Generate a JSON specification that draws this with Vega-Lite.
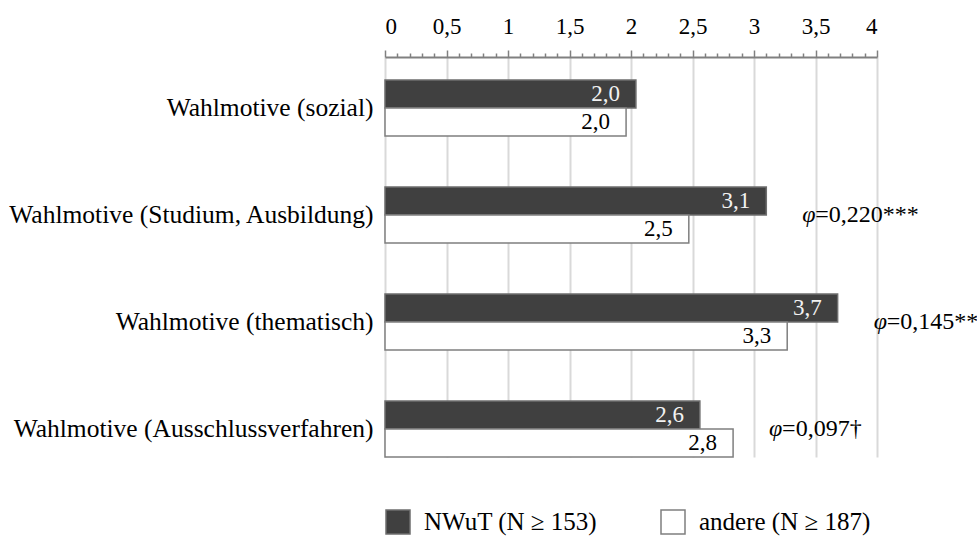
{
  "$schema": "https://vega.github.io/schema/vega-lite/v6.json",
  "width": 492,
  "height": 400,
  "autosize": {"type": "none"},
  "padding": {"left": 385, "top": 57, "right": 100, "bottom": 83},
  "background": "white",
  "config": {
    "view": {"stroke": null},
    "font": "'Liberation Serif', 'Times New Roman', serif",
    "locale": {"number": {"decimal": ",", "thousands": ".", "grouping": [3], "currency": ["", " €"]}}
  },
  "data": {
    "values": [
      {"motiv": "Wahlmotive (sozial)", "grp": "NWuT (N ≥ 153)", "value": 2.04, "phi": null},
      {"motiv": "Wahlmotive (sozial)", "grp": "andere (N ≥ 187)", "value": 1.96, "phi": null},
      {"motiv": "Wahlmotive (Studium, Ausbildung)", "grp": "NWuT (N ≥ 153)", "value": 3.10, "phi": "=0,220***"},
      {"motiv": "Wahlmotive (Studium, Ausbildung)", "grp": "andere (N ≥ 187)", "value": 2.47, "phi": null},
      {"motiv": "Wahlmotive (thematisch)", "grp": "NWuT (N ≥ 153)", "value": 3.68, "phi": "=0,145**"},
      {"motiv": "Wahlmotive (thematisch)", "grp": "andere (N ≥ 187)", "value": 3.27, "phi": null},
      {"motiv": "Wahlmotive (Ausschlussverfahren)", "grp": "NWuT (N ≥ 153)", "value": 2.56, "phi": "=0,097†"},
      {"motiv": "Wahlmotive (Ausschlussverfahren)", "grp": "andere (N ≥ 187)", "value": 2.83, "phi": null}
    ]
  },
  "encoding": {
    "y": {
      "field": "motiv",
      "type": "nominal",
      "title": null,
      "sort": ["Wahlmotive (sozial)", "Wahlmotive (Studium, Ausbildung)", "Wahlmotive (thematisch)", "Wahlmotive (Ausschlussverfahren)"],
      "scale": {"paddingInner": 0.477, "paddingOuter": 0.107, "align": 1},
      "axis": {
        "domain": false,
        "ticks": false,
        "grid": false,
        "labelFont": "'Liberation Serif', 'Times New Roman', serif",
        "labelFontSize": 25.5,
        "labelColor": "#000000",
        "labelPadding": 12,
        "labelLimit": 400
      }
    }
  },
  "layer": [
    {
      "mark": {"type": "bar", "strokeWidth": 1.5},
      "encoding": {
        "x": {
          "field": "value",
          "type": "quantitative",
          "title": null,
          "scale": {"domain": [0, 4], "nice": false, "zero": true},
          "axis": {
            "orient": "top",
            "title": null,
            "tickCount": 60,
            "values": [0, 0.1, 0.2, 0.3, 0.4, 0.5, 0.6, 0.7, 0.8, 0.9, 1, 1.1, 1.2, 1.3, 1.4, 1.5, 1.6, 1.7, 1.8, 1.9, 2, 2.1, 2.2, 2.3, 2.4, 2.5, 2.6, 2.7, 2.8, 2.9, 3, 3.1, 3.2, 3.3, 3.4, 3.5, 3.6, 3.7, 3.8, 3.9, 4],
            "labelExpr": "abs(datum.value*2 - round(datum.value*2)) < 0.001 ? format(datum.value, '~g') : ''",
            "labelFont": "'Liberation Serif', 'Times New Roman', serif",
            "labelFontSize": 23,
            "labelColor": "#000000",
            "labelPadding": 12,
            "labelOverlap": false,
            "domainColor": "#808080",
            "domainWidth": 2,
            "tickColor": "#808080",
            "tickWidth": 1.5,
            "tickSize": {"condition": {"test": "abs(datum.value*2 - round(datum.value*2)) < 0.001", "value": 7}, "value": 4},
            "grid": true,
            "gridColor": "#d9d9d9",
            "gridWidth": 2,
            "gridOpacity": {"condition": {"test": "abs(datum.value*2 - round(datum.value*2)) < 0.001", "value": 1}, "value": 0}
          }
        },
        "yOffset": {"field": "grp", "type": "nominal", "sort": ["NWuT (N ≥ 153)", "andere (N ≥ 187)"], "scale": {"paddingInner": 0, "paddingOuter": 0}},
        "color": {
          "field": "grp",
          "type": "nominal",
          "scale": {"domain": ["NWuT (N ≥ 153)", "andere (N ≥ 187)"], "range": ["#404040", "#ffffff"]},
          "legend": {
            "orient": "bottom",
            "direction": "horizontal",
            "title": null,
            "symbolType": "square",
            "symbolSize": 576,
            "symbolStrokeWidth": 1.5,
            "labelFont": "'Liberation Serif', 'Times New Roman', serif",
            "labelFontSize": 25,
            "labelColor": "#000000",
            "labelOffset": 13,
            "labelLimit": 300,
            "columnPadding": 60,
            "offset": 52
          }
        },
        "stroke": {
          "field": "grp",
          "type": "nominal",
          "scale": {"domain": ["NWuT (N ≥ 153)", "andere (N ≥ 187)"], "range": ["#6e6e6e", "#7f7f7f"]}
        }
      }
    },
    {
      "mark": {"type": "text", "align": "right", "baseline": "middle", "dx": -16, "fontSize": 23, "font": "'Liberation Serif', 'Times New Roman', serif"},
      "encoding": {
        "x": {"field": "value", "type": "quantitative", "title": null},
        "yOffset": {"field": "grp", "type": "nominal", "sort": ["NWuT (N ≥ 153)", "andere (N ≥ 187)"]},
        "text": {"field": "value", "type": "quantitative", "format": ".1f"},
        "color": {
          "condition": {"test": "datum.grp === 'NWuT (N ≥ 153)'", "value": "#f2f2f2"},
          "value": "#000000"
        }
      }
    },
    {
      "transform": [
        {"joinaggregate": [{"op": "max", "field": "value", "as": "maxv"}], "groupby": ["motiv"]},
        {"filter": "datum.phi != null"}
      ],
      "mark": {"type": "text", "align": "left", "baseline": "middle", "dx": 36, "fontSize": 24, "fontStyle": "italic", "font": "'Liberation Serif', 'Times New Roman', serif", "color": "#000000"},
      "encoding": {
        "x": {"field": "maxv", "type": "quantitative", "title": null},
        "text": {"value": "φ"}
      }
    },
    {
      "transform": [
        {"joinaggregate": [{"op": "max", "field": "value", "as": "maxv"}], "groupby": ["motiv"]},
        {"filter": "datum.phi != null"}
      ],
      "mark": {"type": "text", "align": "left", "baseline": "middle", "dx": 49, "fontSize": 24, "font": "'Liberation Serif', 'Times New Roman', serif", "color": "#000000"},
      "encoding": {
        "x": {"field": "maxv", "type": "quantitative", "title": null},
        "text": {"field": "phi", "type": "nominal"}
      }
    }
  ]
}
